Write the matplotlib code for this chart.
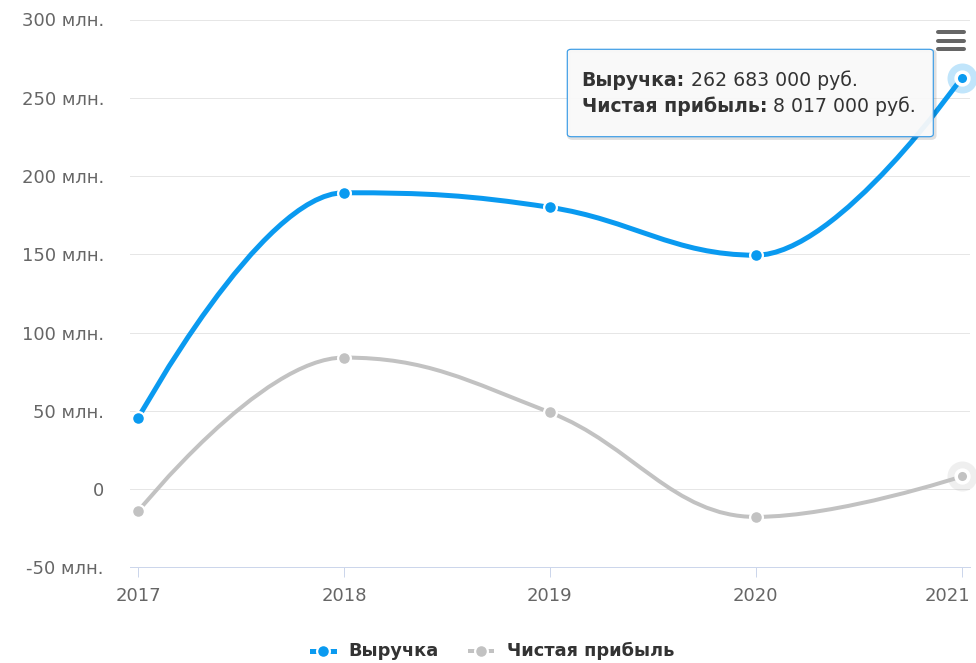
import matplotlib
matplotlib.use("Agg")
import matplotlib.pyplot as plt
from matplotlib.path import Path
from matplotlib.patches import PathPatch, FancyBboxPatch
from matplotlib.lines import Line2D
from matplotlib.transforms import ScaledTranslation

plt.rcParams['font.family'] = ['DejaVu Sans']

# ---- data (millions of rubles) ----
years = [2017, 2018, 2019, 2020, 2021]
revenue = [45.1, 189.3, 180.0, 149.4, 262.683]
net_profit = [-14.3, 84.0, 49.0, -17.8, 8.017]
series_names = ["Выручка", "Чистая прибыль"]
y_ticks = [-50, 0, 50, 100, 150, 200, 250, 300]
tooltip_values = ["262 683 000 руб.", "8 017 000 руб."]

BLUE = "#0a9af0"
GRAY = "#c2c2c2"
W, H = 976, 663
PX = 72 / 100  # points per pixel


def spline_path(xs, ys, smoothing=1.5):
    """Bezier spline through the points, same construction as Highcharts 'spline'."""
    n = len(xs)
    lc = [(x, y) for x, y in zip(xs, ys)]
    rc = [(x, y) for x, y in zip(xs, ys)]
    d = smoothing + 1
    for i in range(1, n - 1):
        px, py = xs[i], ys[i]
        lx, ly = xs[i - 1], ys[i - 1]
        nx, ny = xs[i + 1], ys[i + 1]
        lcx = (smoothing * px + lx) / d
        lcy = (smoothing * py + ly) / d
        rcx = (smoothing * px + nx) / d
        rcy = (smoothing * py + ny) / d
        if rcx != lcx:
            corr = ((rcy - lcy) * (rcx - px)) / (rcx - lcx) + py - rcy
            lcy += corr
            rcy += corr
        if lcy > ly and lcy > py:
            lcy = max(ly, py); rcy = 2 * py - lcy
        elif lcy < ly and lcy < py:
            lcy = min(ly, py); rcy = 2 * py - lcy
        if rcy > ny and rcy > py:
            rcy = max(ny, py); lcy = 2 * py - rcy
        elif rcy < ny and rcy < py:
            rcy = min(ny, py); lcy = 2 * py - rcy
        lc[i] = (lcx, lcy)
        rc[i] = (rcx, rcy)
    verts = [(xs[0], ys[0])]
    codes = [Path.MOVETO]
    for i in range(1, n):
        verts += [rc[i - 1], lc[i], (xs[i], ys[i])]
        codes += [Path.CURVE4] * 3
    return Path(verts, codes)


fig = plt.figure(figsize=(W / 100, H / 100), dpi=100)
ax = fig.add_axes([130 / W, (H - 567.3) / H, 840 / W, 547.8 / H])
ax.set_xlim(2016.961, 2021.041)
ax.set_ylim(-50, 300)

for s in ["top", "right", "left"]:
    ax.spines[s].set_visible(False)
ax.spines["bottom"].set_color("#ccd6eb")
ax.spines["bottom"].set_linewidth(1 * PX)
ax.spines["bottom"].set_zorder(2)

ax.set_yticks(y_ticks)
ax.set_yticklabels(["0" if v == 0 else f"{v} млн." for v in y_ticks])
ax.tick_params(axis="y", length=0, pad=26 * PX, labelsize=13, labelcolor="#666666")
ax.set_xticks(years)
ax.set_xticklabels([str(y) for y in years])
ax.tick_params(axis="x", length=10 * PX, width=1 * PX, color="#ccd6eb",
               pad=7, labelsize=13, labelcolor="#666666")
ax.grid(axis="y", color="#e6e6e6", linewidth=1 * PX, zorder=0)
ax.set_axisbelow(True)

# keep the last year label inside the chart area
last_lbl = ax.get_xticklabels()[-1]
last_lbl.set_horizontalalignment("right")
last_lbl.set_transform(last_lbl.get_transform() + ScaledTranslation(9 / 100, 0, fig.dpi_scale_trans))

lw_blue = 5 * PX
lw_gray = 4 * PX
for vals, color, lw, z in [(revenue, BLUE, lw_blue, 3), (net_profit, GRAY, lw_gray, 4)]:
    ax.add_patch(PathPatch(spline_path(years, vals), facecolor="none", edgecolor=color,
                           linewidth=lw, capstyle="round", joinstyle="round",
                           zorder=z, clip_on=False))
    ax.plot(years[:-1], vals[:-1], linestyle="none", marker="o", markersize=10 * PX + 2,
            markerfacecolor=color, markeredgecolor="white", markeredgewidth=1.6,
            zorder=z + 0.5, clip_on=False)
    # hovered last point: halo, white ring, enlarged marker
    ax.plot([years[-1]], [vals[-1]], linestyle="none", marker="o", markersize=30 * PX,
            markerfacecolor=color, alpha=0.25, markeredgewidth=0, zorder=z + 0.6, clip_on=False)
    ax.plot([years[-1]], [vals[-1]], linestyle="none", marker="o", markersize=12 * PX + 0.5,
            markerfacecolor=color, markeredgecolor="white", markeredgewidth=2.6,
            zorder=z + 0.7, clip_on=False)

# ---- tooltip ----
bx0, bx1, by0, by1 = 567.3, 933.3, 49.3, 136.7
shadow = FancyBboxPatch(((bx0 + 1.5) / W, (H - by1 - 1.5) / H), (bx1 - bx0) / W, (by1 - by0) / H,
                        boxstyle="round,pad=0,rounding_size=0.004", transform=fig.transFigure,
                        facecolor="none", edgecolor=(0, 0, 0, 0.12), linewidth=2.5, zorder=9)
fig.patches.append(shadow)
box = FancyBboxPatch((bx0 / W, (H - by1) / H), (bx1 - bx0) / W, (by1 - by0) / H,
                     boxstyle="round,pad=0,rounding_size=0.004", transform=fig.transFigure,
                     facecolor=(0.975, 0.975, 0.975, 0.95), edgecolor="#3d9de6",
                     linewidth=1.2 * PX, zorder=10)
fig.patches.append(box)

renderer = fig.canvas.get_renderer()
for i, (name, val) in enumerate(zip(series_names, tooltip_values)):
    base_y = 85.7 + i * 26.0
    t1 = fig.text(581.7 / W, (H - base_y) / H, name + ":", fontsize=13.6, fontweight="bold",
                  color="#333333", va="baseline", ha="left", zorder=11)
    bb = t1.get_window_extent(renderer)
    fig.text((bb.x1 + 6) / W, (H - base_y) / H, val, fontsize=13.6,
             color="#333333", va="baseline", ha="left", zorder=11)

# ---- context menu icon ----
for yb in [32.3, 40.7, 49.3]:
    fig.add_artist(Line2D([937.5 / W, 963.5 / W], [(H - yb) / H] * 2, transform=fig.transFigure,
                          color="#666666", linewidth=4 * PX, solid_capstyle="round", zorder=12))

# ---- legend ----
leg_y = (H - 651) / H
items = [(series_names[0], BLUE, lw_blue, 311.5, 348.0), (series_names[1], GRAY, lw_gray, 470.0, 506.5)]
for name, color, lw, sx, tx in items:
    fig.add_artist(Line2D([sx / W, (sx + 22) / W], [leg_y, leg_y], transform=fig.transFigure,
                          color=color, linewidth=lw, zorder=5))
    fig.add_artist(Line2D([(sx + 11) / W], [leg_y], transform=fig.transFigure, linestyle="none",
                          marker="o", markersize=10 * PX + 2, markerfacecolor=color,
                          markeredgecolor="white", markeredgewidth=1.6, zorder=6))
    fig.text(tx / W, leg_y, name, fontsize=12.8, fontweight="bold", color="#333333",
             va="center", ha="left")

fig.savefig("out.png", dpi=100)
